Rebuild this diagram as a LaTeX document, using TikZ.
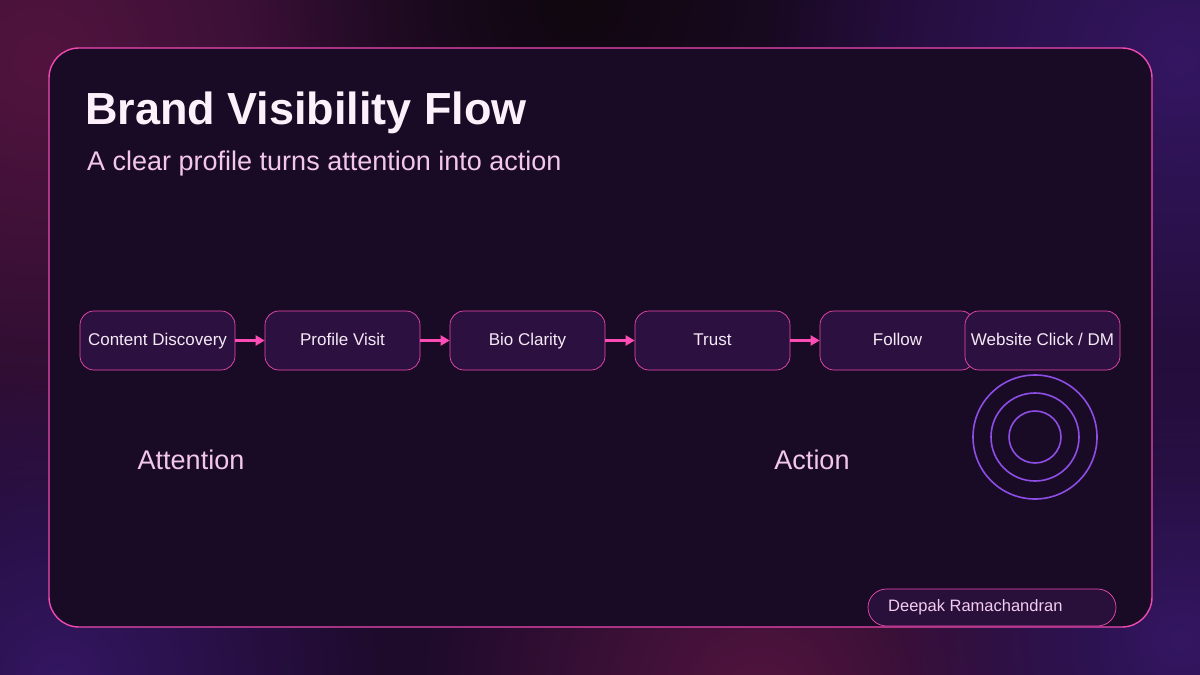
\documentclass[tikz,border=0pt]{standalone}
\usepackage{fontspec}
\setmainfont{Liberation Sans}
\usetikzlibrary{arrows.meta,positioning,fadings}
\definecolor{PageDark}{HTML}{1E0B2C}
\definecolor{GlowMagenta}{HTML}{52143F}
\definecolor{GlowPurple}{HTML}{341662}
\definecolor{GlowShadow}{HTML}{10070F}
\definecolor{CardFill}{HTML}{190B25}
\definecolor{EdgePink}{HTML}{F04AB0}
\definecolor{BoxFill}{HTML}{2C1140}
\definecolor{ArrowPink}{HTML}{FF4DB5}
\definecolor{RingViolet}{HTML}{8E4EE6}
\definecolor{TitleWhite}{HTML}{FDF0FA}
\definecolor{SoftPink}{HTML}{F3C6EE}
\definecolor{BoxText}{HTML}{F6E9F6}

\tikzfading[name=glowfade, inner color=transparent!0, outer color=transparent!100]

\tikzset{
  stepbox/.style={draw=EdgePink, line width=0.7pt, fill=BoxFill, rounded corners=14pt,
    minimum width=155pt, minimum height=59pt, inner sep=0pt, text=BoxText,
    text height=12pt, text depth=3pt, font=\fontsize{17}{20}\selectfont},
  flowarrow/.style={ArrowPink, line width=3pt, -{Triangle[length=9pt,width=10pt]}},
  stagelabel/.style={text=SoftPink, font=\fontsize{27}{31}\selectfont},
  ring/.style={RingViolet, line width=1.6pt},
  glow/.style={fill=#1, path fading=glowfade}
}

\begin{document}
\begin{tikzpicture}[x=1pt, y=-1pt]
  \useasboundingbox (0,0) rectangle (1200,675);

  % Background glow
  \fill[PageDark] (0,0) rectangle (1200,675);
  \begin{scope}
    \clip (0,0) rectangle (1200,675);
    \path[glow=GlowMagenta] (40,60) circle (480);
    \path[glow=GlowShadow] (580,0) circle (320);
    \path[glow=GlowPurple] (1180,60) circle (420);
    \path[glow=GlowMagenta] (760,700) circle (340);
    \path[glow=GlowPurple] (60,680) circle (320);
    \path[glow=GlowPurple] (1180,640) circle (300);
  \end{scope}

  % Card
  \draw[EdgePink, line width=1.4pt, fill=CardFill, rounded corners=30pt] (49,48) rectangle (1152,627);

  % Heading
  \node[anchor=base west, inner sep=0pt, text=TitleWhite, font=\fontsize{45}{50}\selectfont\bfseries] (title) at (85,124) {Brand Visibility Flow};
  \node[anchor=base west, inner sep=0pt, text=SoftPink, font=\fontsize{27}{31}\selectfont] (subtitle) at (87,170) {A clear profile turns attention into action};

  % Flow steps
  \node[stepbox] (discovery) at (157.5,340.5) {Content Discovery};
  \node[stepbox] (visit) at (342.5,340.5) {Profile Visit};
  \node[stepbox] (bio) at (527.5,340.5) {Bio Clarity};
  \node[stepbox] (trust) at (712.5,340.5) {Trust};
  \node[stepbox] (follow) at (897.5,340.5) {Follow};
  \node[stepbox] (click) at (1042.5,340.5) {Website Click / DM};

  % Connectors
  \draw[flowarrow] (discovery) -- (visit);
  \draw[flowarrow] (visit) -- (bio);
  \draw[flowarrow] (bio) -- (trust);
  \draw[flowarrow] (trust) -- (follow);

  % Stage labels
  \node[stagelabel] (attention) at (191,460) {Attention};
  \node[stagelabel] (action) at (812,460) {Action};

  % Target rings
  \draw[ring] (1035,437) circle (62);
  \draw[ring] (1035,437) circle (44);
  \draw[ring] (1035,437) circle (26);

  % Author badge
  \draw[EdgePink, line width=0.7pt, fill=BoxFill!80!CardFill, rounded corners=18.5pt] (868,589) rectangle (1116,626);
  \node[anchor=west, inner sep=0pt, text=SoftPink!90!white, font=\fontsize{16.5}{19}\selectfont] (author) at (888,607) {Deepak Ramachandran};
\end{tikzpicture}
\end{document}
